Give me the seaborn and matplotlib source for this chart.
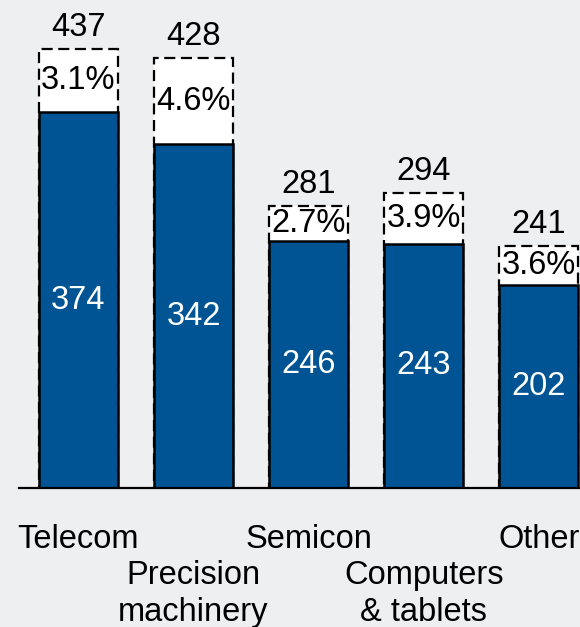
import matplotlib
matplotlib.use("Agg")
import matplotlib.pyplot as plt
import seaborn as sns
import pandas as pd

categories = ["Telecom", "Precision machinery", "Semicon", "Computers & tablets", "Other"]
tick_labels = ["Telecom", "\nPrecision\nmachinery", "Semicon", "\nComputers\n& tablets", "Other"]
base_values = [374, 342, 246, 243, 202]
total_values = [437, 428, 281, 294, 241]
pct_labels = ["3.1%", "4.6%", "2.7%", "3.9%", "3.6%"]

bg = "#eeeff1"
blue = "#005494"

sns.set_theme(style="white")
plt.rcParams["font.family"] = ["Liberation Sans", "DejaVu Sans"]
plt.rcParams["text.color"] = "black"
plt.rcParams["xtick.color"] = "black"

df = pd.DataFrame({"cat": categories, "base": base_values, "total": total_values})

fig = plt.figure(figsize=(5.8, 6.27), dpi=100)
fig.patch.set_facecolor(bg)
ax = fig.add_axes([19 / 580, (627 - 488) / 627, 561 / 580, 488 / 627])
ax.set_facecolor(bg)

# total bar underneath (white, dashed), base bar drawn over it
sns.barplot(data=df, x="cat", y="total", color="white", saturation=1, width=0.685,
            edgecolor="black", linewidth=1.6, linestyle=(0, (5, 2.5)), ax=ax)
sns.barplot(data=df, x="cat", y="base", color=blue, saturation=1, width=0.685,
            edgecolor="black", linewidth=1.8, ax=ax)

fs = 23.5
for i, (b, t, p) in enumerate(zip(base_values, total_values, pct_labels)):
    ax.text(i, b / 2, str(b), ha="center", va="center", color="white", fontsize=fs)
    ax.text(i, (b + t) / 2, p, ha="center", va="center", color="black", fontsize=fs)
    ax.annotate(str(t), (i, t), xytext=(0, 9), textcoords="offset points",
                ha="center", va="baseline", color="black", fontsize=fs)

ax.set_xlim(-0.516, 4.357)
ax.set_ylim(0, 485.6)
ax.set_xticks(range(len(categories)))
ax.set_xticklabels(tick_labels, fontsize=fs, va="top", linespacing=1.22, color="black")
ax.tick_params(axis="x", length=0, pad=26)
ax.set_yticks([])
ax.set_xlabel("")
ax.set_ylabel("")
for s in ["left", "right", "top"]:
    ax.spines[s].set_visible(False)
ax.spines["bottom"].set_linewidth(1.6)
ax.spines["bottom"].set_color("black")

fig.savefig("out.png", dpi=100, facecolor=bg)
